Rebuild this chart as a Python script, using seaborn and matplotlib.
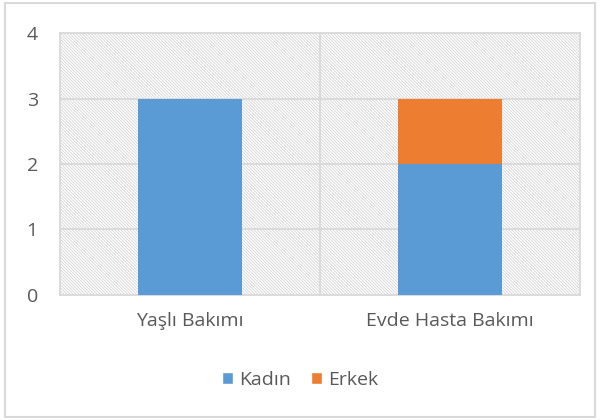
import numpy as np
import pandas as pd
import matplotlib
matplotlib.use("Agg")
import matplotlib.pyplot as plt
import seaborn as sns
from matplotlib.patches import Rectangle, Patch

categories = ["Yaşlı Bakımı", "Evde Hasta Bakımı"]
kadin = [3, 2]
erkek = [0, 1]
yticks = [0, 1, 2, 3, 4]

blue = "#5b9bd5"
orange = "#ed7d31"
grid = "#d9d9d9"
text = "#595959"

sns.set_style("white")
plt.rcParams["font.family"] = ["Open Sans", "DejaVu Sans"]
plt.rcParams["hatch.linewidth"] = 0.6

df = pd.DataFrame({"cat": categories, "Kadın": kadin,
                   "total": np.array(kadin) + np.array(erkek)})

fig = plt.figure(figsize=(6, 4.2), dpi=100)
ax = fig.add_axes([0.1, 0.298, 0.867, 0.623])

# hatched plot background
bg = Rectangle((0, 0), 1, 1, transform=ax.transAxes, facecolor="white",
               edgecolor="#d4d4d4", hatch="\\" * 11, linewidth=0, zorder=0)
ax.add_patch(bg)

sns.barplot(data=df, x="cat", y="total", color=orange, width=0.4,
            saturation=1, linewidth=0, ax=ax, zorder=3)
sns.barplot(data=df, x="cat", y="Kadın", color=blue, width=0.4,
            saturation=1, linewidth=0, ax=ax, zorder=3)

ax.set_ylim(0, 4)
ax.set_xlim(-0.5, 1.5)
ax.set_yticks(yticks)
ax.set_xlabel("")
ax.set_ylabel("")
for y in yticks[1:]:
    ax.axhline(y, color=grid, lw=1.3, zorder=1)
ax.axvline(0.5, color=grid, lw=1.3, zorder=1)
for s in ax.spines.values():
    s.set_color(grid)
    s.set_linewidth(1.3)
ax.tick_params(axis="both", length=0, labelsize=14, colors=text, pad=12)
ax.tick_params(axis="y", pad=16)

handles = [Patch(facecolor=blue, label="Kadın"),
           Patch(facecolor=orange, label="Erkek")]
fig.legend(handles=handles, loc="center", bbox_to_anchor=(0.5, 0.095),
           ncol=2, frameon=False, fontsize=14, labelcolor=text,
           handlelength=0.6, handleheight=0.6, handletextpad=0.3,
           columnspacing=1.0)

fig.patches.append(Rectangle((0.008, 0.008), 0.984, 0.984,
                             transform=fig.transFigure, fill=False,
                             edgecolor=grid, linewidth=1.5))

fig.savefig("out.png", dpi=100)
